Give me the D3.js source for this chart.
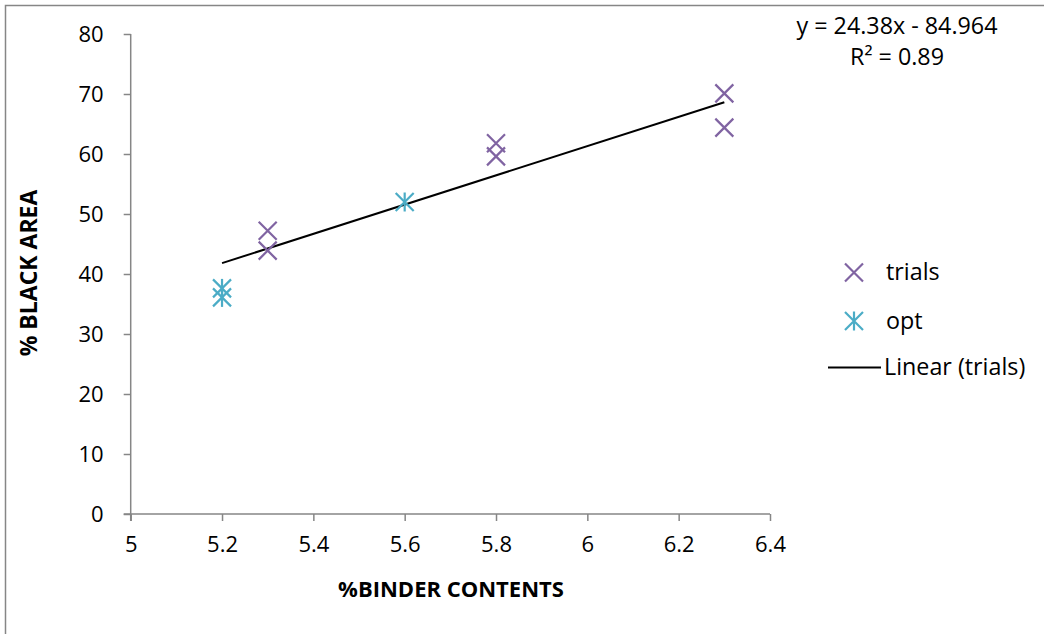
<!DOCTYPE html>
<html><head><meta charset="utf-8">
<script src="https://cdn.jsdelivr.net/npm/d3@7"></script>
<style>body{margin:0;background:#fff}svg{display:block}text{font-family:"Open Sans",sans-serif;fill:#000}</style>
</head><body><svg id="c" width="1044" height="634"></svg>
<script>
// data
const trialsX = [5.3, 5.3, 5.8, 5.8, 6.3, 6.3];
const trialsY = [47.2, 43.9, 61.8, 59.6, 70.1, 64.4];
const optX = [5.2, 5.2, 5.6];
const optY = [37.6, 36.1, 52.0];
const trendSlope = 24.38, trendIntercept = -84.964;
const trendRange = [5.2, 6.3];
const equationLines = ["y = 24.38x - 84.964", "R² = 0.89"];
const xTicks = [5, 5.2, 5.4, 5.6, 5.8, 6, 6.2, 6.4];
const yTicks = [0, 10, 20, 30, 40, 50, 60, 70, 80];
const legendLabels = ["trials", "opt", "Linear (trials)"];
const xTitle = "%BINDER CONTENTS", yTitle = "% BLACK AREA";

const svg = d3.select("#c");
const grey = "#868686", purple = "#8064A2", teal = "#4BACC6";
const FS = 22, FL = 23.3;

svg.append("rect").attr("x",5.5).attr("y",5.5).attr("width",1100).attr("height",700)
  .attr("fill","none").attr("stroke",grey).attr("stroke-width",1.5);

const x = d3.scaleLinear().domain([5,6.4]).range([130.7,770]);
const y = d3.scaleLinear().domain([0,80]).range([514,34]);

const fmt = d => String(d);
const gy = svg.append("g").attr("transform",`translate(${x(5)},0)`)
  .call(d3.axisLeft(y).tickValues(yTicks).tickFormat(fmt).tickSize(7).tickPadding(20));
const gx = svg.append("g").attr("transform",`translate(0,${y(0)})`)
  .call(d3.axisBottom(x).tickValues(xTicks).tickFormat(fmt).tickSize(7).tickPadding(15));
[gx, gy].forEach(g => {
  g.selectAll("path.domain").attr("stroke",grey).attr("stroke-width",1.5);
  g.selectAll(".tick line").attr("stroke",grey).attr("stroke-width",1.5);
  g.selectAll("text").attr("font-size",FS).attr("font-family","'Open Sans',sans-serif").attr("fill","#000");
});
gx.select("path.domain").attr("d",`M${x(5)-7},0H${x(6.4)}`);
gy.select("path.domain").attr("d",`M0,${y(0)+7}V${y(80)}`);

// trendline
const line = d3.line().x(d=>x(d)).y(d=>y(trendSlope*d+trendIntercept));
svg.append("path").attr("d",line(trendRange)).attr("stroke","#000").attr("stroke-width",2).attr("fill","none");

const S = 9;
function drawX(g, cx, cy, col){
  g.append("path").attr("d",`M${cx-S},${cy-S}L${cx+S},${cy+S}M${cx-S},${cy+S}L${cx+S},${cy-S}`)
   .attr("stroke",col).attr("stroke-width",2.2).attr("fill","none");
}
function drawStar(g, cx, cy, col){
  drawX(g,cx,cy,col);
  g.append("path").attr("d",`M${cx},${cy-S-0.5}V${cy+S+0.5}`).attr("stroke",col).attr("stroke-width",2.2);
}
const pts = svg.append("g");
trialsX.forEach((d,i)=>drawX(pts, x(d), y(trialsY[i]), purple));
optX.forEach((d,i)=>drawStar(pts, x(d), y(optY[i]), teal));

// equation
svg.append("text").attr("x",897).attr("y",34).attr("text-anchor","middle").attr("font-size",FL).text(equationLines[0]);
svg.append("text").attr("x",897).attr("y",65).attr("text-anchor","middle").attr("font-size",FL).text(equationLines[1]);

// legend
const lg = svg.append("g");
drawX(lg, 854, 272.5, purple);
drawStar(lg, 854, 321, teal);
lg.append("line").attr("x1",828).attr("x2",881).attr("y1",367.5).attr("y2",367.5).attr("stroke","#000").attr("stroke-width",2);
lg.append("text").attr("x",886).attr("y",280).attr("font-size",FL).text(legendLabels[0]);
lg.append("text").attr("x",886).attr("y",329).attr("font-size",FL).text(legendLabels[1]);
lg.append("text").attr("x",884).attr("y",375).attr("font-size",FL).text(legendLabels[2]);

// titles
svg.append("text").attr("x",451).attr("y",597).attr("text-anchor","middle").attr("font-size",22).attr("font-weight","bold").text(xTitle);
svg.append("text").attr("transform","translate(37,273) rotate(-90)").attr("text-anchor","middle").attr("font-size",23).attr("font-weight","bold").text(yTitle);
</script></body></html>
